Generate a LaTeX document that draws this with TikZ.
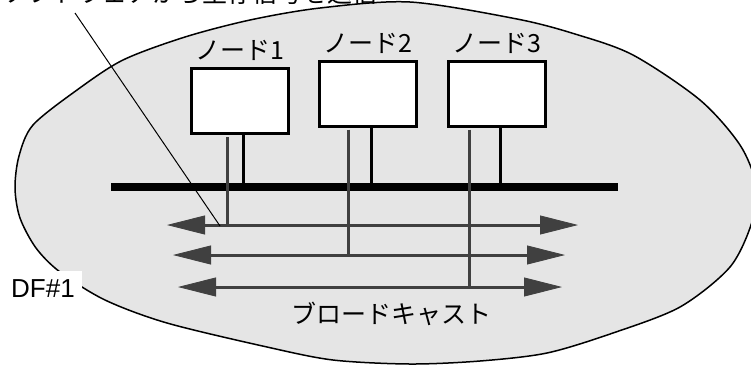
\documentclass[tikz,border=0pt]{standalone}
\usepackage{fontspec}
\setmainfont{Liberation Sans}
\newfontfamily\cjk{Noto Sans CJK JP}
\usetikzlibrary{arrows.meta,positioning}
\definecolor{cloud}{HTML}{E5E5E5}
\definecolor{sig}{HTML}{404040}

\begin{document}
\begin{tikzpicture}[x=1pt,y=-1pt,
  host/.style={draw,line width=3pt,fill=white,minimum width=97pt,minimum height=65pt,inner sep=0pt},
  txt/.style={font=\cjk\fontsize{25}{30}\selectfont,inner sep=0pt},
  tap/.style={line width=3pt},
  sigline/.style={draw=sig,line width=3pt},
  bcast/.style={sigline,{Triangle[length=38pt,width=19pt,line width=0.8pt]}-{Triangle[length=38pt,width=19pt,line width=0.8pt]}}]
  \useasboundingbox (0,0) rectangle (751,365);
  \clip (0,0) rectangle (751,365);
  % DF area
  \draw [fill=cloud,line width=1.5pt] plot [smooth cycle,tension=0.5] coordinates {
    (410,2) (517,19) (575,34) (633,55) (700,100) (740,145) (756,185) (752,222)
    (730,267) (680,307) (613,333) (547,353) (480,361) (410,364) (333,360)
    (267,347) (167,323) (105,300) (60,272) (36,248) (20,218) (15,188) (19,156)
    (33,125) (77,90) (123,60) (185,37) (250,20) (320,8)};
  \node (msg) [txt,anchor=base west] at (2,2) {ソフトウェアから生存信号を送信};
  \node (df) [fill=white,font=\fontsize{26}{30}\selectfont,inner xsep=7pt,inner ysep=3pt,
    text height=23pt,text depth=0pt,anchor=north east] at (82,271) {DF\#1};
  % bus
  \coordinate (busl) at (111,187);
  \coordinate (busr) at (618,187);
  \draw [line width=8pt] (busl) -- (busr);
  % nodes
  \node (n1) [host] at (240,101) {};
  \node (n2) [host] at (368,93.5) {};
  \node (n3) [host] at (497,93.5) {};
  \node (l1) [txt,above=6pt of n1] {ノード1};
  \node (l2) [txt,above=6pt of n2] {ノード2};
  \node (l3) [txt,above=6pt of n3] {ノード3};
  \draw [tap] ([xshift=3pt]n1.south) -- ([xshift=3pt]n1.south |- busl);
  \draw [tap] ([xshift=3pt]n2.south) -- ([xshift=3pt]n2.south |- busl);
  \draw [tap] ([xshift=3pt]n3.south) -- ([xshift=3pt]n3.south |- busl);
  % broadcasts
  \coordinate (a1l) at (167,225);
  \coordinate (a1r) at (578,225);
  \coordinate (a2l) at (173,255);
  \coordinate (a2r) at (565,255);
  \coordinate (a3l) at (178,287);
  \coordinate (a3r) at (562,287);
  \draw [sigline] ([xshift=-13pt,yshift=-2pt]n1.south) -- ([xshift=-13pt]n1.south |- a1l);
  \draw [sigline] ([xshift=-20pt,yshift=-2pt]n2.south) -- ([xshift=-20pt]n2.south |- a2l);
  \draw [sigline] ([xshift=-28pt,yshift=-2pt]n3.south) -- ([xshift=-28pt]n3.south |- a3l);
  \draw [bcast] (a1l) -- (a1r);
  \draw [bcast] (a2l) -- (a2r);
  \draw [bcast] (a3l) -- (a3r);
  \node (bc) [txt] at (391,314) {ブロードキャスト};
  % callout
  \coordinate (ct) at (75,13);
  \coordinate (ce) at (220,226);
  \draw [line width=1pt] (ct) -- (ce);
\end{tikzpicture}
\end{document}
